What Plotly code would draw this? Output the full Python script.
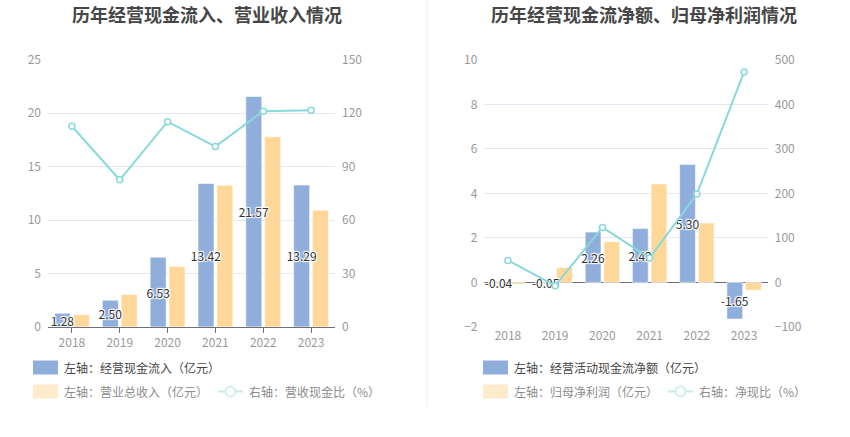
import plotly.graph_objects as go

years = ["2018", "2019", "2020", "2021", "2022", "2023"]

# Left chart
cash_inflow = [1.28, 2.50, 6.53, 13.42, 21.57, 13.29]
revenue = [1.14, 3.03, 5.66, 13.25, 17.80, 10.92]
cash_rev_ratio = [112.7, 82.6, 115.3, 101.3, 121.2, 121.7]

# Right chart
op_net_cash = [-0.04, -0.05, 2.26, 2.42, 5.30, -1.65]
net_profit = [-0.08, 0.67, 1.83, 4.42, 2.67, -0.35]
net_cash_ratio = [49.4, -7.5, 123.5, 54.8, 198.5, 473.0]

BLUE = "#8FAEDB"
YELLOW = "#FFD899"
CYAN = "#88D9DB"
FONT = "Noto Sans CJK SC"
TICK = "#999999"
GRID = "#E3E8F2"
AXIS = "#6E7079"
SHADOW = "1px 1px 1px #fff, -1px -1px 1px #fff, 1px -1px 1px #fff, -1px 1px 1px #fff, 0 0 2px #fff"

BAR_W = 0.335

fig = go.Figure()

def bar_pair(xa, ya, vals_a, vals_b):
    # second series drawn first so labels of the first series sit on top
    fig.add_trace(go.Bar(
        x=years, y=vals_b, xaxis=xa, yaxis=ya, offset=0.03, width=BAR_W,
        marker=dict(color=YELLOW, line=dict(color="rgba(255,255,255,0.6)", width=1)),
        showlegend=False, hoverinfo="skip",
    ))
    fig.add_trace(go.Bar(
        x=years, y=vals_a, xaxis=xa, yaxis=ya, offset=-0.365, width=BAR_W,
        marker=dict(color=BLUE, line=dict(color="rgba(255,255,255,0.6)", width=1)),
        text=[f"{v:.2f}" for v in vals_a], textposition="inside",
        insidetextanchor="middle", constraintext="none", textangle=0,
        insidetextfont=dict(color="#333333", size=12, family=FONT, shadow=SHADOW),
        showlegend=False, hoverinfo="skip",
    ))

def ratio_line(xa, ya, vals):
    fig.add_trace(go.Scatter(
        x=years, y=vals, xaxis=xa, yaxis=ya, mode="lines+markers",
        line=dict(color=CYAN, width=2),
        marker=dict(symbol="circle", size=6, color="white", line=dict(color=CYAN, width=1.5)),
        showlegend=False, hoverinfo="skip",
    ))

bar_pair("x", "y", cash_inflow, revenue)
ratio_line("x", "y2", cash_rev_ratio)
bar_pair("x2", "y3", op_net_cash, net_profit)
ratio_line("x2", "y4", net_cash_ratio)

YDOM = [0.252, 0.863]
Y3_RANGE = [-2, 10]
# paper position of the zero line of the right chart (for its category tick marks)
zero_pos = YDOM[0] + (0 - Y3_RANGE[0]) / (Y3_RANGE[1] - Y3_RANGE[0]) * (YDOM[1] - YDOM[0])
tickfont = dict(color=TICK, size=12, family=FONT)

fig.update_layout(
    width=850, height=437, autosize=False,
    margin=dict(l=0, r=0, t=0, b=0, pad=0, autoexpand=False),
    paper_bgcolor="white", plot_bgcolor="white",
    barmode="overlay", showlegend=False,
    font=dict(family=FONT),
    xaxis=dict(domain=[0.0565, 0.3941], anchor="y", type="category", automargin=False,
               showline=True, linecolor=AXIS, ticks="outside", ticklen=5, tickcolor=AXIS,
               tickfont=tickfont, showgrid=False, fixedrange=True),
    yaxis=dict(domain=YDOM, range=[0, 25], dtick=5, gridcolor=GRID, tickfont=tickfont, automargin=False,
               zeroline=False, showline=False, ticks="", ticklabelstandoff=6, fixedrange=True),
    yaxis2=dict(domain=YDOM, overlaying="y", side="right", anchor="x", range=[0, 150], dtick=30,
                automargin=False,
                showgrid=False, tickfont=tickfont, zeroline=False, ticklabelstandoff=6, fixedrange=True),
    xaxis2=dict(domain=[0.5698, 0.9032], anchor="y3", type="category", automargin=False,
                showline=False, ticks="", tickfont=tickfont, showgrid=False, fixedrange=True),
    xaxis3=dict(overlaying="x2", anchor="free", position=zero_pos, type="category",
                categoryorder="array", categoryarray=years, range=[-0.5, len(years) - 0.5],
                tickmode="array", tickvals=years,
                automargin=False, showline=False, ticks="outside", ticklen=5, tickcolor=AXIS,
                showticklabels=False, showgrid=False, zeroline=False, fixedrange=True),
    yaxis3=dict(domain=YDOM, anchor="x2", range=Y3_RANGE, dtick=2, gridcolor=GRID, tickfont=tickfont,
                automargin=False,
                zeroline=True, zerolinecolor=AXIS, zerolinewidth=1, ticklabelstandoff=6, fixedrange=True),
    yaxis4=dict(domain=YDOM, overlaying="y3", side="right", anchor="x2", range=[-100, 500], dtick=100,
                automargin=False,
                showgrid=False, tickfont=tickfont, zeroline=False, ticklabelstandoff=6, fixedrange=True),
)

W, H = 850.0, 437.0
def px(x): return x / W
def py(y): return 1 - y / H

annotations = []
shapes = []

# Titles
for text, cx in [("历年经营现金流入、营业收入情况", 207), ("历年经营现金流净额、归母净利润情况", 644)]:
    annotations.append(dict(text=f"<b>{text}</b>", x=px(cx), y=py(14), xref="paper", yref="paper",
                            xanchor="center", yanchor="middle", showarrow=False,
                            font=dict(size=18, color="#464646", family=FONT)))

# Divider
shapes.append(dict(type="line", xref="paper", yref="paper", x0=px(427), x1=px(427), y0=py(0), y1=py(407),
                   line=dict(color="#EEEEEE", width=1)))

DARK_TXT = "#464646"
LIGHT_TXT = "#8C8C8C"
FADED_YELLOW = "#FEEBCC"
FADED_CYAN = "#C4ECED"

def swatch(x0, yc, color):
    shapes.append(dict(type="rect", xref="paper", yref="paper",
                       x0=px(x0), x1=px(x0 + 25), y0=py(yc + 7), y1=py(yc - 7),
                       fillcolor=color, line=dict(width=0)))

def label(x0, yc, text, color):
    annotations.append(dict(text=text, x=px(x0), y=py(yc), xref="paper", yref="paper",
                            xanchor="left", yanchor="middle", showarrow=False,
                            font=dict(size=12, color=color, family=FONT)))

def line_icon(x0, yc):
    shapes.append(dict(type="line", xref="paper", yref="paper", x0=px(x0), x1=px(x0 + 25),
                       y0=py(yc), y1=py(yc), line=dict(color=FADED_CYAN, width=2)))
    shapes.append(dict(type="circle", xref="paper", yref="paper",
                       x0=px(x0 + 12.5 - 5), x1=px(x0 + 12.5 + 5), y0=py(yc + 5), y1=py(yc - 5),
                       fillcolor="white", line=dict(color=FADED_CYAN, width=1.5)))

# Left legend
swatch(33, 367.5, BLUE)
label(62, 367.5, "左轴：经营现金流入（亿元）", DARK_TXT)
swatch(33, 391.5, FADED_YELLOW)
label(62, 391.5, "左轴：营业总收入（亿元）", LIGHT_TXT)
line_icon(218, 391.5)
label(247, 391.5, "右轴：营收现金比（%）", LIGHT_TXT)

# Right legend
swatch(483, 367.5, BLUE)
label(512, 367.5, "左轴：经营活动现金流净额（亿元）", DARK_TXT)
swatch(483, 391.5, FADED_YELLOW)
label(512, 391.5, "左轴：归母净利润（亿元）", LIGHT_TXT)
line_icon(668, 391.5)
label(697, 391.5, "右轴：净现比（%）", LIGHT_TXT)

fig.update_layout(annotations=annotations, shapes=shapes)

fig.write_html("out.html", config={"displayModeBar": False},
               post_script="document.body.style.margin='0px';document.body.style.overflow='hidden';")
